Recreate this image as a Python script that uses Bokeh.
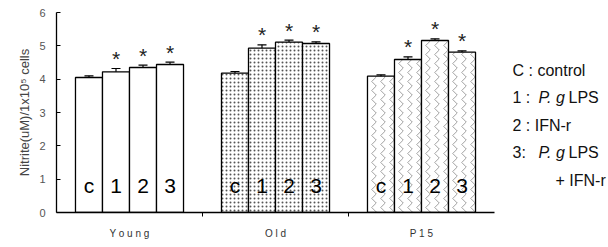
from bokeh.plotting import figure
from bokeh.layouts import row
from bokeh.models import ColumnDataSource, Whisker, LinearAxis, FixedTicker, Range1d
from bokeh.core.properties import value
from bokeh.embed import file_html
from bokeh.resources import INLINE

groups = ["Young", "Old", "P15"]
group_labels = ["Y o u n g", "O l d", "P 1 5"]
treatments = ["c", "1", "2", "3"]
young_vals = [4.05, 4.22, 4.35, 4.44]
young_err = [0.05, 0.10, 0.07, 0.07]
old_vals = [4.18, 4.93, 5.11, 5.07]
old_err = [0.05, 0.10, 0.06, 0.05]
p15_vals = [4.09, 4.59, 5.16, 4.81]
p15_err = [0.04, 0.08, 0.05, 0.04]
significant = [False, True, True, True]
legend_prefix = ["C : control", "1 :", "2 : IFN-r", "3:", "+ IFN-r"]
legend_italic = ["", "P. g", "", "P. g", ""]
legend_suffix = ["", "LPS", "", "LPS", ""]

W_MAIN = 500
H = 247
p = figure(width=W_MAIN, height=H, output_backend="svg", toolbar_location=None,
           x_range=Range1d(0, 3.0), y_range=Range1d(0, 6.0),
           min_border_left=56, min_border_right=6, min_border_top=12, min_border_bottom=35)
p.outline_line_color = None
p.grid.visible = False

bar_w = 0.185
offsets = [-1.5 * bar_w, -0.5 * bar_w, 0.5 * bar_w, 1.5 * bar_w]
styles = [dict(),
          dict(hatch_pattern="dot", hatch_scale=4, hatch_weight=1.1, hatch_color="#555555"),
          dict(hatch_pattern="vertical_wave", hatch_scale=9, hatch_weight=0.8, hatch_color="#888888")]
all_vals = [young_vals, old_vals, p15_vals]
all_err = [young_err, old_err, p15_err]

for gi, (vals, errs) in enumerate(zip(all_vals, all_err)):
    xs = [gi + 0.5 + o for o in offsets]
    src = ColumnDataSource(dict(x=xs, top=vals, upper=[v + e for v, e in zip(vals, errs)],
                                lower=[v - e for v, e in zip(vals, errs)], lab=treatments,
                                ly=[0.8] * 4))
    p.vbar(x="x", top="top", width=bar_w, bottom=0, source=src, fill_color="white",
           line_color="black", line_width=1.3, **styles[gi])
    w = Whisker(base="x", upper="upper", lower="lower", source=src, line_color="black", line_width=1.2)
    w.upper_head.size = 9
    w.lower_head.size = 9
    w.upper_head.line_width = 1.2
    w.lower_head.line_width = 1.2
    p.add_layout(w)
    p.text(x="x", y="ly", text="lab", source=src, text_align="center", text_baseline="middle",
           text_font=value("Liberation Sans"), text_font_size="21px", text_color="black")
    sx = [x for x, s in zip(xs, significant) if s]
    sy = [v + e + 0.3 for v, e, s in zip(vals, errs, significant) if s]
    p.text(x=sx, y=sy, text=["*"] * len(sx), text_align="center", text_baseline="middle",
           text_font=value("Liberation Sans"), text_font_size="21px", text_color="#222222")

# y axis
p.yaxis.ticker = FixedTicker(ticks=[0, 1, 2, 3, 4, 5, 6])
p.yaxis.major_tick_in = 4
p.yaxis.major_tick_out = 0
p.yaxis.minor_tick_line_color = None
p.yaxis.axis_line_width = 1.3
p.yaxis.major_label_text_font = "Liberation Sans"
p.yaxis.major_label_text_font_size = "11px"
p.yaxis.major_label_text_color = "#555555"
p.yaxis.major_label_standoff = 11
p.yaxis.axis_label = "Nitrite(uM)/1x10\u2075 cells"
p.yaxis.axis_label_text_font = "Liberation Sans"
p.yaxis.axis_label_text_font_size = "13px"
p.yaxis.axis_label_text_font_style = "normal"
p.yaxis.axis_label_text_color = "#444444"
p.yaxis.axis_label_standoff = 4

# x axis: separator ticks between groups
p.xaxis.ticker = FixedTicker(ticks=[1, 2])
p.xaxis.major_label_overrides = {1: "", 2: ""}
p.xaxis.major_tick_out = 4
p.xaxis.major_tick_in = 0
p.xaxis.minor_tick_line_color = None
p.xaxis.axis_line_width = 1.3
p.xaxis.major_label_text_font_size = "1px"
p.xaxis.major_label_standoff = 0

ax2 = LinearAxis(ticker=FixedTicker(ticks=[0.5, 1.5, 2.5]),
                 major_label_overrides={0.5 + i: t for i, t in enumerate(group_labels)})
ax2.axis_line_color = None
ax2.major_tick_line_color = None
ax2.minor_tick_line_color = None
ax2.major_label_text_font = "Liberation Sans"
ax2.major_label_text_font_size = "10px"
ax2.major_label_text_color = "#333333"
ax2.major_label_standoff = 5
p.add_layout(ax2, "below")

# legend panel
p2 = figure(width=108, height=H, output_backend="svg", toolbar_location=None,
            x_range=Range1d(0, 108), y_range=Range1d(0, 6.0),
            x_axis_type=None, y_axis_type=None,
            min_border_left=0, min_border_right=0, min_border_top=12, min_border_bottom=35)
p2.outline_line_color = None
p2.grid.visible = False
ly = [4.27, 3.46, 2.62, 1.80, 0.96]
lx = [12, 12, 12, 12, 55]
fnt = value("Liberation Sans")
p2.text(x=lx, y=ly, text=legend_prefix, text_font=fnt, text_font_size="16px",
        text_baseline="middle", text_color="#111111")
ix = [x + 26 for x, t in zip(lx, legend_italic) if t]
iy = [y for y, t in zip(ly, legend_italic) if t]
p2.text(x=ix, y=iy, text=[t for t in legend_italic if t], text_font=fnt, text_font_size="16px",
        text_font_style="italic", text_baseline="middle", text_color="#111111")
sx2 = [x + 56 for x, t in zip(lx, legend_suffix) if t]
p2.text(x=sx2, y=iy, text=[t for t in legend_suffix if t], text_font=fnt, text_font_size="16px",
        text_baseline="middle", text_color="#111111")

layout = row(p, p2)
open("out.html", "w").write(file_html(layout, INLINE))
